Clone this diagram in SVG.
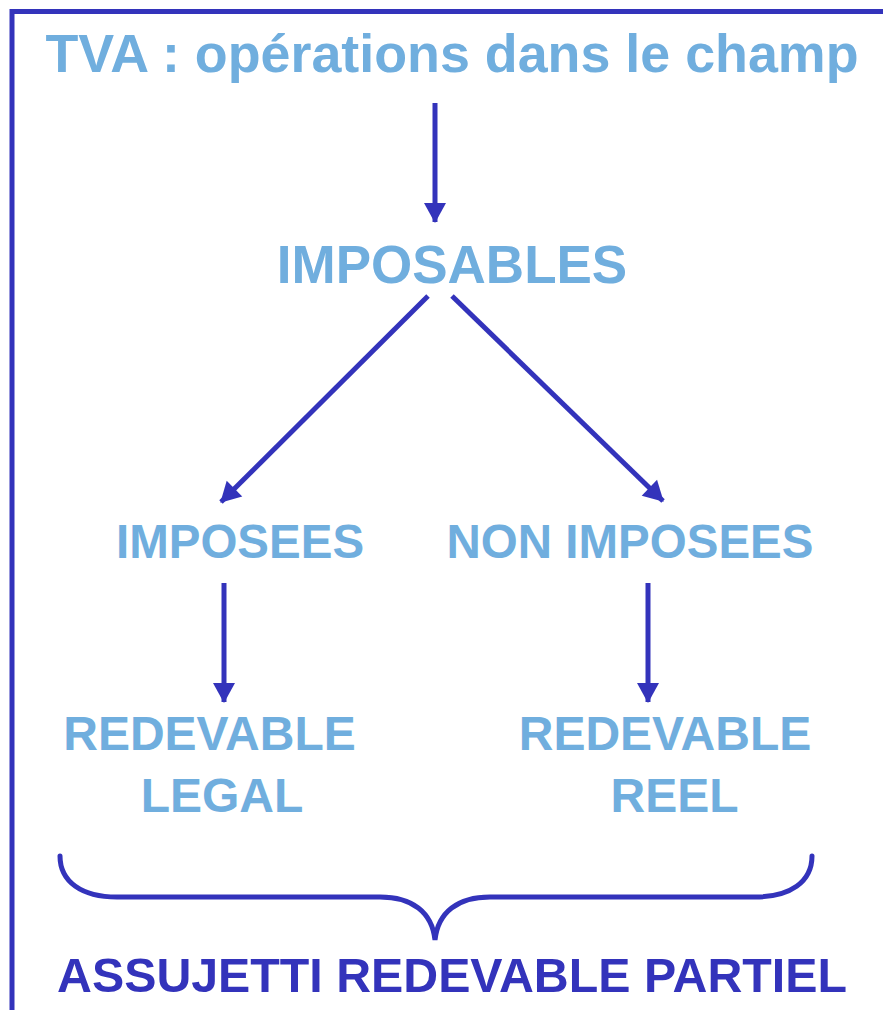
<svg xmlns="http://www.w3.org/2000/svg" width="883" height="1010" viewBox="0 0 883 1010">
  <style>
    .lbl { font-family: "Liberation Sans", Arial, sans-serif; font-weight: bold; fill: #70AEDE; text-anchor: middle; }
    .dark { fill: #3333BB; }
    .conn { stroke: #3333BB; stroke-width: 5; fill: none; marker-end: url(#head); }
    .frame { stroke: #3333BB; stroke-width: 5; fill: none; }
  </style>
  <defs>
    <marker id="head" markerUnits="userSpaceOnUse" markerWidth="20" markerHeight="22" viewBox="0 0 20 22" refX="19" refY="11" orient="auto" overflow="visible">
      <path d="M0,0 L20,11 L0,22 z" fill="#3333BB"/>
    </marker>
  </defs>
  <rect width="883" height="1010" fill="#FFFFFF"/>

  <!-- frame: top and left edges -->
  <path class="frame" d="M883,11.5 L12,11.5 L12,1010"/>

  <g id="node-tva">
    <text class="lbl" x="452" y="72" font-size="53.8">TVA : opérations dans le champ</text>
  </g>
  <g id="node-imposables">
    <text class="lbl" x="452" y="283" font-size="53">IMPOSABLES</text>
  </g>
  <g id="node-imposees">
    <text class="lbl" x="240" y="558" font-size="47.5">IMPOSEES</text>
  </g>
  <g id="node-non-imposees">
    <text class="lbl" x="630" y="558" font-size="47.5">NON IMPOSEES</text>
  </g>
  <g id="node-legal">
    <text class="lbl" x="209.5" y="750" font-size="48">REDEVABLE</text>
    <text class="lbl" x="222" y="812" font-size="48">LEGAL</text>
  </g>
  <g id="node-reel">
    <text class="lbl" x="665" y="750" font-size="48">REDEVABLE</text>
    <text class="lbl" x="674.5" y="812" font-size="48">REEL</text>
  </g>
  <g id="node-assujetti">
    <text class="lbl dark" x="452" y="992" font-size="48.3">ASSUJETTI REDEVABLE PARTIEL</text>
  </g>

  <g id="connectors">
    <line class="conn" x1="435" y1="103" x2="435" y2="222"/>
    <line class="conn" x1="428" y1="296" x2="221" y2="502"/>
    <line class="conn" x1="452" y1="296" x2="663" y2="501"/>
    <line class="conn" x1="224" y1="583" x2="224" y2="702"/>
    <line class="conn" x1="648" y1="583" x2="648" y2="702"/>
    <!-- brace grouping both redevables -->
    <path class="frame" stroke-linecap="round" d="M60,856 C60,882 82,897 117,897 L380,897 C412,897 432,912 435,940 C438,912 458,897 490,897 L755,897 C790,897 812,882 812,856"/>
  </g>
</svg>
